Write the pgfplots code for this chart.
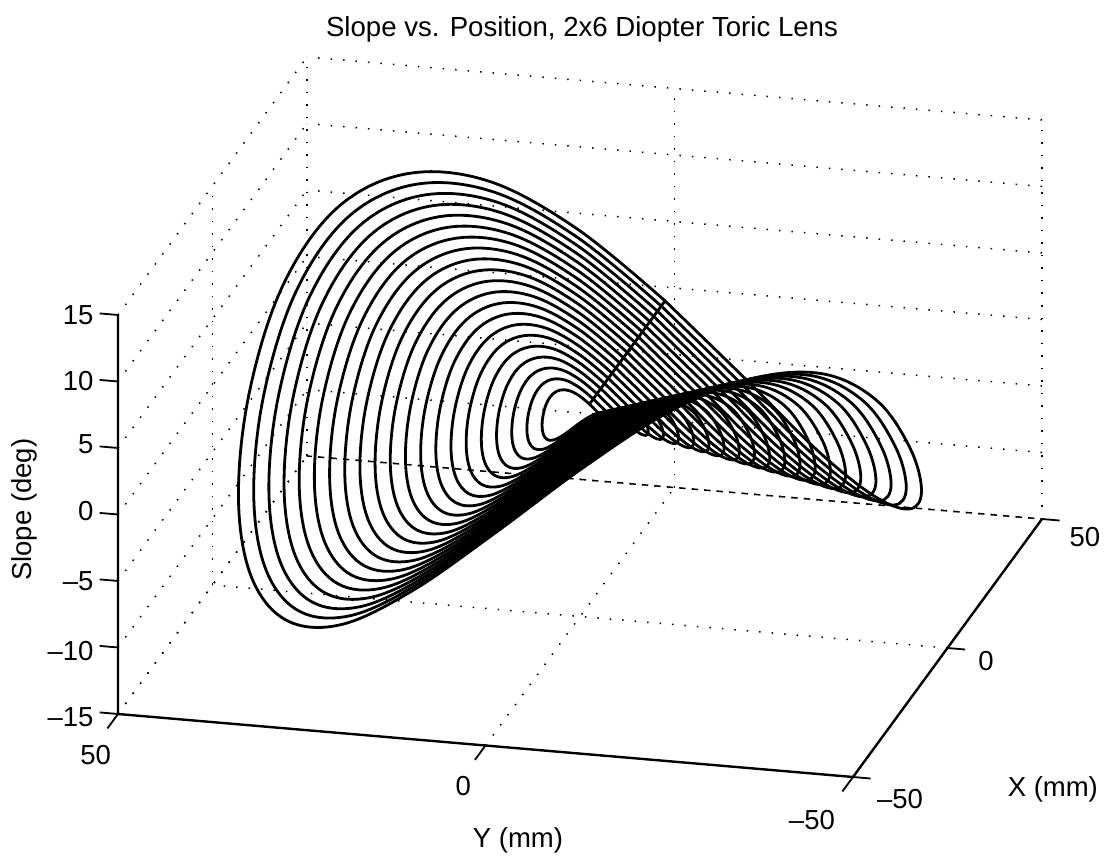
\documentclass[border=0pt]{standalone}
\usepackage{pgfplots}
\pgfplotsset{compat=1.18}
\usepackage{fontspec}
\setmainfont{Liberation Sans}
\pgfplotsset{ring/.style={black,line width=2.8pt,smooth,tension=.6},
  tk/.style={black,line width=1.8pt}}
\begin{document}
\begin{tikzpicture}[x=1pt,y=1pt]
\path[use as bounding box] (0,0) rectangle (1106,860);
\begin{axis}[
  anchor=origin, at={(580pt,443pt)},
  x={(1.89pt,2.58pt)}, y={(-7.35pt,0.63pt)}, z={(0pt,13.3pt)},
  xmin=-50,xmax=50,ymin=-50,ymax=50,zmin=-15,zmax=15,
  clip=false,
  axis line style={draw=none},
  xtick={-50,0,50},ytick={-50,0,50},ztick={-15,-10,-5,0,5,10,15},
  xticklabels={--50,0,50},yticklabels={--50\hspace*{36pt},0,50},zticklabels={--15,--10,--5,0,5,10,15},
  tick align=outside, major tick length=18pt,
  tick style={draw=none},
  grid=major, grid style={draw=black,line width=1.5pt,dash pattern=on 1.5pt off 11pt},
  tick label style={font=\fontsize{27.5}{30}\selectfont},
  x tick label style={xshift=9pt,yshift=1pt},
  y tick label style={xshift=-7pt,yshift=-12pt},
  z tick label style={xshift=-3pt,yshift=7pt},
  title={Slope vs. Position, 2x6 Diopter Toric Lens},
  title style={at={(axis cs:1.06,0,28.5)},anchor=center,font=\fontsize{27.6}{30}\selectfont},
  xlabel={X (mm)},ylabel={Y (mm)},zlabel={Slope (deg)},
  xlabel style={at={(axis cs:250.2,0,-76.5)},anchor=center,font=\fontsize{27.5}{30}\selectfont},
  ylabel style={at={(axis cs:-32.8,0,-25.45)},anchor=center,font=\fontsize{27.5}{30}\selectfont},
  zlabel style={at={(axis cs:-294.2,0,50.1)},anchor=center,rotate=0,font=\fontsize{27.5}{30}\selectfont},
]
\addplot3[black,line width=2.4pt] coordinates {(-50,50,15)(-50,50,-15)(-50,-50,-15)(50,-50,-15)};
\addplot3[black,line width=1.5pt,dash pattern=on 5pt off 7.5pt] coordinates {(50,50,-15)(50,-50,-15)};
\addplot3[tk] coordinates {(-50,50,-15)(-50,52.5,-15)};
\addplot3[tk] coordinates {(-50,50,-10)(-50,52.5,-10)};
\addplot3[tk] coordinates {(-50,50,-5)(-50,52.5,-5)};
\addplot3[tk] coordinates {(-50,50,0)(-50,52.5,0)};
\addplot3[tk] coordinates {(-50,50,5)(-50,52.5,5)};
\addplot3[tk] coordinates {(-50,50,10)(-50,52.5,10)};
\addplot3[tk] coordinates {(-50,50,15)(-50,52.5,15)};
\addplot3[tk] coordinates {(-50,50,-15)(-55.6,50,-15)};
\addplot3[tk] coordinates {(-50,0,-15)(-55.6,0,-15)};
\addplot3[tk] coordinates {(-50,-50,-15)(-55.6,-50,-15)};
\addplot3[tk] coordinates {(-50,-50,-15)(-50,-52.4,-15)};
\addplot3[tk] coordinates {(0,-50,-15)(0,-52.4,-15)};
\addplot3[tk] coordinates {(50,-50,-15)(50,-52.4,-15)};
\addplot3[ring] coordinates {(5,0,0)(4.83,1.29,.58)(4.33,2.5,1.01)(3.54,3.54,1.18)(2.5,4.33,1.05)(1.29,4.83,.61)(0,5,-.04)(-1.29,4.83,-.65)(-2.5,4.33,-1.05)(-3.54,3.54,-1.18)(-4.33,2.5,-1.01)(-4.83,1.29,-.58)(-5,0,0)(-4.83,-1.29,.58)(-4.33,-2.5,1.01)(-3.54,-3.54,1.18)(-2.5,-4.33,1.05)(-1.29,-4.83,.61)(0,-5,-.04)(1.29,-4.83,-.65)(2.5,-4.33,-1.05)(3.54,-3.54,-1.18)(4.33,-2.5,-1.01)(4.83,-1.29,-.58)(5,0,0)};
\addplot3[ring] coordinates {(7,0,0)(6.76,1.81,.81)(6.06,3.5,1.42)(4.95,4.95,1.65)(3.5,6.06,1.47)(1.81,6.76,.86)(0,7,-.05)(-1.81,6.76,-.91)(-3.5,6.06,-1.47)(-4.95,4.95,-1.65)(-6.06,3.5,-1.42)(-6.76,1.81,-.81)(-7,0,0)(-6.76,-1.81,.81)(-6.06,-3.5,1.42)(-4.95,-4.95,1.65)(-3.5,-6.06,1.47)(-1.81,-6.76,.86)(0,-7,-.05)(1.81,-6.76,-.91)(3.5,-6.06,-1.47)(4.95,-4.95,-1.65)(6.06,-3.5,-1.42)(6.76,-1.81,-.81)(7,0,0)};
\addplot3[ring] coordinates {(9,0,0)(8.69,2.33,1.04)(7.79,4.5,1.82)(6.36,6.36,2.12)(4.5,7.79,1.89)(2.33,8.69,1.10)(0,9,-.06)(-2.33,8.69,-1.17)(-4.5,7.79,-1.89)(-6.36,6.36,-2.12)(-7.79,4.5,-1.82)(-8.69,2.33,-1.04)(-9,0,0)(-8.69,-2.33,1.04)(-7.79,-4.5,1.82)(-6.36,-6.36,2.12)(-4.5,-7.79,1.89)(-2.33,-8.69,1.10)(0,-9,-.06)(2.33,-8.69,-1.17)(4.5,-7.79,-1.89)(6.36,-6.36,-2.12)(7.79,-4.5,-1.82)(8.69,-2.33,-1.04)(9,0,0)};
\addplot3[ring] coordinates {(11,0,0)(10.62,2.85,1.27)(9.53,5.5,2.23)(7.78,7.78,2.59)(5.5,9.53,2.31)(2.85,10.62,1.35)(0,11,-.08)(-2.85,10.62,-1.43)(-5.5,9.53,-2.31)(-7.78,7.78,-2.59)(-9.53,5.5,-2.23)(-10.62,2.85,-1.27)(-11,0,0)(-10.62,-2.85,1.27)(-9.53,-5.5,2.23)(-7.78,-7.78,2.59)(-5.5,-9.53,2.31)(-2.85,-10.62,1.35)(0,-11,-.08)(2.85,-10.62,-1.43)(5.5,-9.53,-2.31)(7.78,-7.78,-2.59)(9.53,-5.5,-2.23)(10.62,-2.85,-1.27)(11,0,0)};
\addplot3[ring] coordinates {(13,0,0)(12.56,3.36,1.50)(11.26,6.5,2.63)(9.19,9.19,3.06)(6.5,11.26,2.73)(3.36,12.56,1.59)(0,13,-.09)(-3.36,12.56,-1.68)(-6.5,11.26,-2.73)(-9.19,9.19,-3.06)(-11.26,6.5,-2.63)(-12.56,3.36,-1.50)(-13,0,0)(-12.56,-3.36,1.50)(-11.26,-6.5,2.63)(-9.19,-9.19,3.06)(-6.5,-11.26,2.73)(-3.36,-12.56,1.59)(0,-13,-.09)(3.36,-12.56,-1.68)(6.5,-11.26,-2.73)(9.19,-9.19,-3.06)(11.26,-6.5,-2.63)(12.56,-3.36,-1.50)(13,0,0)};
\addplot3[ring] coordinates {(15,0,0)(14.49,3.88,1.73)(12.99,7.5,3.04)(10.61,10.61,3.53)(7.5,12.99,3.15)(3.88,14.49,1.84)(0,15,-.11)(-3.88,14.49,-1.94)(-7.5,12.99,-3.15)(-10.61,10.61,-3.53)(-12.99,7.5,-3.04)(-14.49,3.88,-1.73)(-15,0,0)(-14.49,-3.88,1.73)(-12.99,-7.5,3.04)(-10.61,-10.61,3.53)(-7.5,-12.99,3.15)(-3.88,-14.49,1.84)(0,-15,-.11)(3.88,-14.49,-1.94)(7.5,-12.99,-3.15)(10.61,-10.61,-3.53)(12.99,-7.5,-3.04)(14.49,-3.88,-1.73)(15,0,0)};
\addplot3[ring] coordinates {(17,0,0)(16.42,4.40,1.96)(14.72,8.5,3.44)(12.02,12.02,4.01)(8.5,14.72,3.56)(4.40,16.42,2.08)(0,17,-.12)(-4.40,16.42,-2.20)(-8.5,14.72,-3.56)(-12.02,12.02,-4.01)(-14.72,8.5,-3.44)(-16.42,4.40,-1.96)(-17,0,0)(-16.42,-4.40,1.96)(-14.72,-8.5,3.44)(-12.02,-12.02,4.01)(-8.5,-14.72,3.56)(-4.40,-16.42,2.08)(0,-17,-.12)(4.40,-16.42,-2.20)(8.5,-14.72,-3.56)(12.02,-12.02,-4.01)(14.72,-8.5,-3.44)(16.42,-4.40,-1.96)(17,0,0)};
\addplot3[ring] coordinates {(19,0,0)(18.35,4.92,2.19)(16.45,9.5,3.85)(13.43,13.43,4.48)(9.5,16.45,3.98)(4.92,18.35,2.33)(0,19,-.13)(-4.92,18.35,-2.46)(-9.5,16.45,-3.98)(-13.43,13.43,-4.48)(-16.45,9.5,-3.85)(-18.35,4.92,-2.19)(-19,0,0)(-18.35,-4.92,2.19)(-16.45,-9.5,3.85)(-13.43,-13.43,4.48)(-9.5,-16.45,3.98)(-4.92,-18.35,2.33)(0,-19,-.13)(4.92,-18.35,-2.46)(9.5,-16.45,-3.98)(13.43,-13.43,-4.48)(16.45,-9.5,-3.85)(18.35,-4.92,-2.19)(19,0,0)};
\addplot3[ring] coordinates {(21,0,0)(20.28,5.43,2.42)(18.19,10.5,4.25)(14.85,14.85,4.95)(10.5,18.19,4.40)(5.43,20.28,2.57)(0,21,-.15)(-5.43,20.28,-2.72)(-10.5,18.19,-4.40)(-14.85,14.85,-4.95)(-18.19,10.5,-4.25)(-20.28,5.43,-2.42)(-21,0,0)(-20.28,-5.43,2.42)(-18.19,-10.5,4.25)(-14.85,-14.85,4.95)(-10.5,-18.19,4.40)(-5.43,-20.28,2.57)(0,-21,-.15)(5.43,-20.28,-2.72)(10.5,-18.19,-4.40)(14.85,-14.85,-4.95)(18.19,-10.5,-4.25)(20.28,-5.43,-2.42)(21,0,0)};
\addplot3[ring] coordinates {(23,0,0)(22.22,5.95,2.65)(19.92,11.5,4.66)(16.26,16.26,5.42)(11.5,19.92,4.82)(5.95,22.22,2.82)(0,23,-.16)(-5.95,22.22,-2.98)(-11.5,19.92,-4.82)(-16.26,16.26,-5.42)(-19.92,11.5,-4.66)(-22.22,5.95,-2.65)(-23,0,0)(-22.22,-5.95,2.65)(-19.92,-11.5,4.66)(-16.26,-16.26,5.42)(-11.5,-19.92,4.82)(-5.95,-22.22,2.82)(0,-23,-.16)(5.95,-22.22,-2.98)(11.5,-19.92,-4.82)(16.26,-16.26,-5.42)(19.92,-11.5,-4.66)(22.22,-5.95,-2.65)(23,0,0)};
\addplot3[ring] coordinates {(25,0,0)(24.15,6.47,2.89)(21.65,12.5,5.07)(17.68,17.68,5.89)(12.5,21.65,5.24)(6.47,24.15,3.06)(0,25,-.18)(-6.47,24.15,-3.24)(-12.5,21.65,-5.24)(-17.68,17.68,-5.89)(-21.65,12.5,-5.07)(-24.15,6.47,-2.89)(-25,0,0)(-24.15,-6.47,2.89)(-21.65,-12.5,5.07)(-17.68,-17.68,5.89)(-12.5,-21.65,5.24)(-6.47,-24.15,3.06)(0,-25,-.18)(6.47,-24.15,-3.24)(12.5,-21.65,-5.24)(17.68,-17.68,-5.89)(21.65,-12.5,-5.07)(24.15,-6.47,-2.89)(25,0,0)};
\addplot3[ring] coordinates {(27,0,0)(26.08,6.99,3.12)(23.38,13.5,5.47)(19.09,19.09,6.36)(13.5,23.38,5.66)(6.99,26.08,3.31)(0,27,-.19)(-6.99,26.08,-3.50)(-13.5,23.38,-5.66)(-19.09,19.09,-6.36)(-23.38,13.5,-5.47)(-26.08,6.99,-3.12)(-27,0,0)(-26.08,-6.99,3.12)(-23.38,-13.5,5.47)(-19.09,-19.09,6.36)(-13.5,-23.38,5.66)(-6.99,-26.08,3.31)(0,-27,-.19)(6.99,-26.08,-3.50)(13.5,-23.38,-5.66)(19.09,-19.09,-6.36)(23.38,-13.5,-5.47)(26.08,-6.99,-3.12)(27,0,0)};
\addplot3[ring] coordinates {(29,0,0)(28.01,7.51,3.35)(25.11,14.5,5.88)(20.51,20.51,6.83)(14.5,25.11,6.08)(7.51,28.01,3.55)(0,29,-.21)(-7.51,28.01,-3.76)(-14.5,25.11,-6.08)(-20.51,20.51,-6.83)(-25.11,14.5,-5.88)(-28.01,7.51,-3.35)(-29,0,0)(-28.01,-7.51,3.35)(-25.11,-14.5,5.88)(-20.51,-20.51,6.83)(-14.5,-25.11,6.08)(-7.51,-28.01,3.55)(0,-29,-.21)(7.51,-28.01,-3.76)(14.5,-25.11,-6.08)(20.51,-20.51,-6.83)(25.11,-14.5,-5.88)(28.01,-7.51,-3.35)(29,0,0)};
\addplot3[ring] coordinates {(31,0,0)(29.94,8.02,3.58)(26.85,15.5,6.28)(21.92,21.92,7.30)(15.5,26.85,6.50)(8.02,29.94,3.80)(0,31,-.22)(-8.02,29.94,-4.02)(-15.5,26.85,-6.50)(-21.92,21.92,-7.30)(-26.85,15.5,-6.28)(-29.94,8.02,-3.58)(-31,0,0)(-29.94,-8.02,3.58)(-26.85,-15.5,6.28)(-21.92,-21.92,7.30)(-15.5,-26.85,6.50)(-8.02,-29.94,3.80)(0,-31,-.22)(8.02,-29.94,-4.02)(15.5,-26.85,-6.50)(21.92,-21.92,-7.30)(26.85,-15.5,-6.28)(29.94,-8.02,-3.58)(31,0,0)};
\addplot3[ring] coordinates {(33,0,0)(31.87,8.54,3.81)(28.58,16.5,6.69)(23.33,23.33,7.77)(16.5,28.58,6.92)(8.54,31.87,4.04)(0,33,-.23)(-8.54,31.87,-4.28)(-16.5,28.58,-6.92)(-23.33,23.33,-7.77)(-28.58,16.5,-6.69)(-31.87,8.54,-3.81)(-33,0,0)(-31.87,-8.54,3.81)(-28.58,-16.5,6.69)(-23.33,-23.33,7.77)(-16.5,-28.58,6.92)(-8.54,-31.87,4.04)(0,-33,-.23)(8.54,-31.87,-4.28)(16.5,-28.58,-6.92)(23.33,-23.33,-7.77)(28.58,-16.5,-6.69)(31.87,-8.54,-3.81)(33,0,0)};
\addplot3[ring] coordinates {(35,0,0)(33.81,9.06,4.04)(30.31,17.5,7.09)(24.75,24.75,8.25)(17.5,30.31,7.34)(9.06,33.81,4.29)(0,35,-.25)(-9.06,33.81,-4.54)(-17.5,30.31,-7.34)(-24.75,24.75,-8.25)(-30.31,17.5,-7.09)(-33.81,9.06,-4.04)(-35,0,0)(-33.81,-9.06,4.04)(-30.31,-17.5,7.09)(-24.75,-24.75,8.25)(-17.5,-30.31,7.34)(-9.06,-33.81,4.29)(0,-35,-.25)(9.06,-33.81,-4.54)(17.5,-30.31,-7.34)(24.75,-24.75,-8.25)(30.31,-17.5,-7.09)(33.81,-9.06,-4.04)(35,0,0)};
\addplot3[ring] coordinates {(37,0,0)(35.74,9.58,4.27)(32.04,18.5,7.50)(26.16,26.16,8.72)(18.5,32.04,7.76)(9.58,35.74,4.53)(0,37,-.26)(-9.58,35.74,-4.80)(-18.5,32.04,-7.76)(-26.16,26.16,-8.72)(-32.04,18.5,-7.50)(-35.74,9.58,-4.27)(-37,0,0)(-35.74,-9.58,4.27)(-32.04,-18.5,7.50)(-26.16,-26.16,8.72)(-18.5,-32.04,7.76)(-9.58,-35.74,4.53)(0,-37,-.26)(9.58,-35.74,-4.80)(18.5,-32.04,-7.76)(26.16,-26.16,-8.72)(32.04,-18.5,-7.50)(35.74,-9.58,-4.27)(37,0,0)};
\addplot3[ring] coordinates {(39,0,0)(37.67,10.09,4.50)(33.77,19.5,7.90)(27.58,27.58,9.19)(19.5,33.77,8.18)(10.09,37.67,4.78)(0,39,-.28)(-10.09,37.67,-5.05)(-19.5,33.77,-8.18)(-27.58,27.58,-9.19)(-33.77,19.5,-7.90)(-37.67,10.09,-4.50)(-39,0,0)(-37.67,-10.09,4.50)(-33.77,-19.5,7.90)(-27.58,-27.58,9.19)(-19.5,-33.77,8.18)(-10.09,-37.67,4.78)(0,-39,-.28)(10.09,-37.67,-5.05)(19.5,-33.77,-8.18)(27.58,-27.58,-9.19)(33.77,-19.5,-7.90)(37.67,-10.09,-4.50)(39,0,0)};
\addplot3[ring] coordinates {(41,0,0)(39.60,10.61,4.73)(35.51,20.5,8.31)(28.99,28.99,9.66)(20.5,35.51,8.60)(10.61,39.60,5.02)(0,41,-.29)(-10.61,39.60,-5.31)(-20.5,35.51,-8.60)(-28.99,28.99,-9.66)(-35.51,20.5,-8.31)(-39.60,10.61,-4.73)(-41,0,0)(-39.60,-10.61,4.73)(-35.51,-20.5,8.31)(-28.99,-28.99,9.66)(-20.5,-35.51,8.60)(-10.61,-39.60,5.02)(0,-41,-.29)(10.61,-39.60,-5.31)(20.5,-35.51,-8.60)(28.99,-28.99,-9.66)(35.51,-20.5,-8.31)(39.60,-10.61,-4.73)(41,0,0)};
\addplot3[ring] coordinates {(43,0,0)(41.53,11.13,4.96)(37.24,21.5,8.71)(30.41,30.41,10.13)(21.5,37.24,9.02)(11.13,41.53,5.27)(0,43,-.31)(-11.13,41.53,-5.57)(-21.5,37.24,-9.02)(-30.41,30.41,-10.13)(-37.24,21.5,-8.71)(-41.53,11.13,-4.96)(-43,0,0)(-41.53,-11.13,4.96)(-37.24,-21.5,8.71)(-30.41,-30.41,10.13)(-21.5,-37.24,9.02)(-11.13,-41.53,5.27)(0,-43,-.31)(11.13,-41.53,-5.57)(21.5,-37.24,-9.02)(30.41,-30.41,-10.13)(37.24,-21.5,-8.71)(41.53,-11.13,-4.96)(43,0,0)};
\addplot3[ring] coordinates {(45,0,0)(43.47,11.65,5.19)(38.97,22.5,9.12)(31.82,31.82,10.60)(22.5,38.97,9.44)(11.65,43.47,5.51)(0,45,-.32)(-11.65,43.47,-5.83)(-22.5,38.97,-9.44)(-31.82,31.82,-10.60)(-38.97,22.5,-9.12)(-43.47,11.65,-5.19)(-45,0,0)(-43.47,-11.65,5.19)(-38.97,-22.5,9.12)(-31.82,-31.82,10.60)(-22.5,-38.97,9.44)(-11.65,-43.47,5.51)(0,-45,-.32)(11.65,-43.47,-5.83)(22.5,-38.97,-9.44)(31.82,-31.82,-10.60)(38.97,-22.5,-9.12)(43.47,-11.65,-5.19)(45,0,0)};
\addplot3[black,line width=2.8pt] coordinates {(5,0,0)(45,0,0)};
\end{axis}
\end{tikzpicture}
\end{document}
